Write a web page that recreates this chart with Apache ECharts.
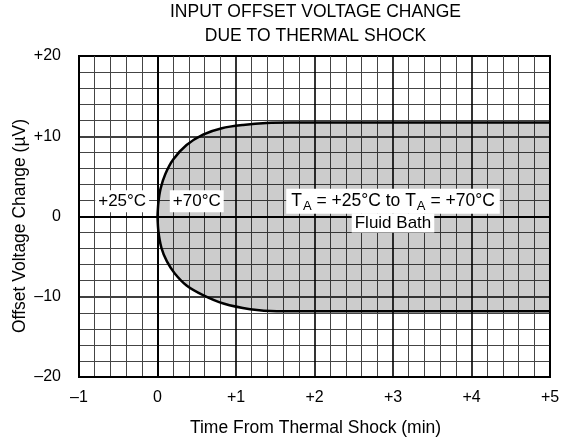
<!DOCTYPE html>
<html><head><meta charset="utf-8">
<script src="https://cdn.jsdelivr.net/npm/echarts@6/dist/echarts.min.js"></script>
<style>html,body{margin:0;padding:0;background:#fff}#c{width:572px;height:443px}</style>
</head><body><div id="c"></div>
<script>
// Data
var titleLines = ['INPUT OFFSET VOLTAGE CHANGE', 'DUE TO THERMAL SHOCK'];
var xName = 'Time From Thermal Shock (min)';
var yName = 'Offset Voltage Change (\u00b5V)';
var xTicks = [-1, 0, 1, 2, 3, 4, 5];
var yTicks = [-20, -10, 0, 10, 20];
// upper boundary of the offset band (time min, offset uV)
var upperX = [0, 0.012, 0.04, 0.1, 0.2, 0.37, 0.58, 0.82, 1.09, 1.39, 1.7, 5];
var upperY = [0, 1.8, 3.5, 5.3, 7.1, 8.9, 10.2, 11.0, 11.4, 11.65, 11.7, 11.7];
// lower boundary
var lowerX = [0, 0.012, 0.05, 0.12, 0.22, 0.37, 0.58, 0.84, 1.18, 1.52, 5];
var lowerY = [0, -1.9, -3.9, -5.6, -7.1, -8.6, -9.8, -10.85, -11.55, -11.8, -11.8];
// annotations: [x, y, text]
var notes = [
  [-0.45, 1.9, '+25\u00b0C'],
  [0.50, 1.9, '+70\u00b0C']
];
var bathNote = [3.0, 1.9];
var bathNote2 = [3.0, -0.8, 'Fluid Bath'];

function fmt(v) {
  if (v > 0) return '+' + v;
  if (v < 0) return '\u2013' + Math.abs(v);
  return '0';
}
function zip(a, b) { return a.map(function (v, i) { return [v, b[i]]; }); }

var FONT = '"Liberation Sans", Arial, sans-serif';
var chart = echarts.init(document.getElementById('c'), null, {renderer: 'canvas'});
var grid = {left: 79, right: 22, top: 56, bottom: 66};
var commonAxis = function (min, max, interval, minorN) {
  return {
    type: 'value', min: min, max: max, interval: interval,
    axisLine: {show: true, onZero: false, lineStyle: {color: '#000', width: 2}},
    axisTick: {show: false},
    axisLabel: {color: '#000', fontFamily: FONT, fontSize: 16, formatter: fmt},
    splitLine: {show: true, lineStyle: {color: '#000', width: 1.6}},
    minorTick: {show: false, splitNumber: minorN},
    minorSplitLine: {show: true, lineStyle: {color: '#444', width: 1}}
  };
};
var xAxis = commonAxis(xTicks[0], xTicks[xTicks.length - 1], 1, 5);
xAxis.axisLabel.margin = 13;
var yAxis = commonAxis(yTicks[0], yTicks[yTicks.length - 1], 10, 5);
yAxis.axisLabel.margin = 18;

chart.setOption({
  animation: false,
  grid: Object.assign({show: true, borderColor: '#000', borderWidth: 2, backgroundColor: '#fff'}, grid),
  xAxis: [xAxis, {type: 'value', position: 'top', min: -1, max: 5, axisLine: {show: true, lineStyle: {color: '#000', width: 2}}, axisTick: {show: false}, axisLabel: {show: false}, splitLine: {show: false}}],
  yAxis: [yAxis, {type: 'value', position: 'right', min: -20, max: 20, axisLine: {show: true, lineStyle: {color: '#000', width: 2}}, axisTick: {show: false}, axisLabel: {show: false}, splitLine: {show: false}}],
  series: [
    {type: 'line', data: zip(upperX, upperY), smooth: 0.3, symbol: 'none',
     lineStyle: {color: '#000', width: 2.5}, areaStyle: {color: '#000', opacity: 0.2, origin: 0}},
    {type: 'line', data: zip(lowerX, lowerY), smooth: 0.3, symbol: 'none',
     lineStyle: {color: '#000', width: 2.5}, areaStyle: {color: '#000', opacity: 0.2, origin: 0}}
  ]
});

function px(x, y) { return chart.convertToPixel({gridIndex: 0}, [x, y]); }
var cx = grid.left + (572 - grid.left - grid.right) / 2;
var elements = [
  {type: 'text', x: cx + 1, y: 12, style: {text: titleLines[0], font: '17.5px ' + FONT, fill: '#000', align: 'center', verticalAlign: 'middle'}},
  {type: 'text', x: cx + 1, y: 36, style: {text: titleLines[1], font: '17.5px ' + FONT, fill: '#000', align: 'center', verticalAlign: 'middle'}},
  {type: 'text', x: cx + 1, y: 428, style: {text: xName, font: '17.5px ' + FONT, fill: '#000', align: 'center', verticalAlign: 'middle'}},
  {type: 'text', x: 20, y: 226, rotation: Math.PI / 2, style: {text: yName, font: '17.5px ' + FONT, fill: '#000', align: 'center', verticalAlign: 'middle'}}
];
notes.forEach(function (n) {
  var p = px(n[0], n[1]);
  elements.push({type: 'text', x: p[0], y: p[1], z: 10, style: {text: n[2], font: '17px ' + FONT, fill: '#000', align: 'center', verticalAlign: 'middle', backgroundColor: '#fff', padding: [3, 3, 2, 3]}});
});
var pb = px(bathNote[0], bathNote[1]);
elements.push({type: 'text', x: pb[0], y: pb[1], z: 10, style: {
  text: '{t|T}{s|A}{t| = +25\u00b0C to T}{s|A}{t| = +70\u00b0C}',
  rich: {t: {font: '17.5px ' + FONT, fill: '#000', verticalAlign: 'middle'}, s: {font: '13px ' + FONT, fill: '#000', padding: [10, 0, 0, 1]}},
  align: 'center', verticalAlign: 'middle', backgroundColor: '#fff', padding: [1, 5, 1, 5]}});
var pb2 = px(bathNote2[0], bathNote2[1]);
elements.push({type: 'text', x: pb2[0], y: pb2[1], z: 10, style: {text: bathNote2[2], font: '17px ' + FONT, fill: '#000', align: 'center', verticalAlign: 'middle', backgroundColor: '#fff', padding: [1, 3, 1, 3]}});
chart.setOption({graphic: {elements: elements}});
</script></body></html>
